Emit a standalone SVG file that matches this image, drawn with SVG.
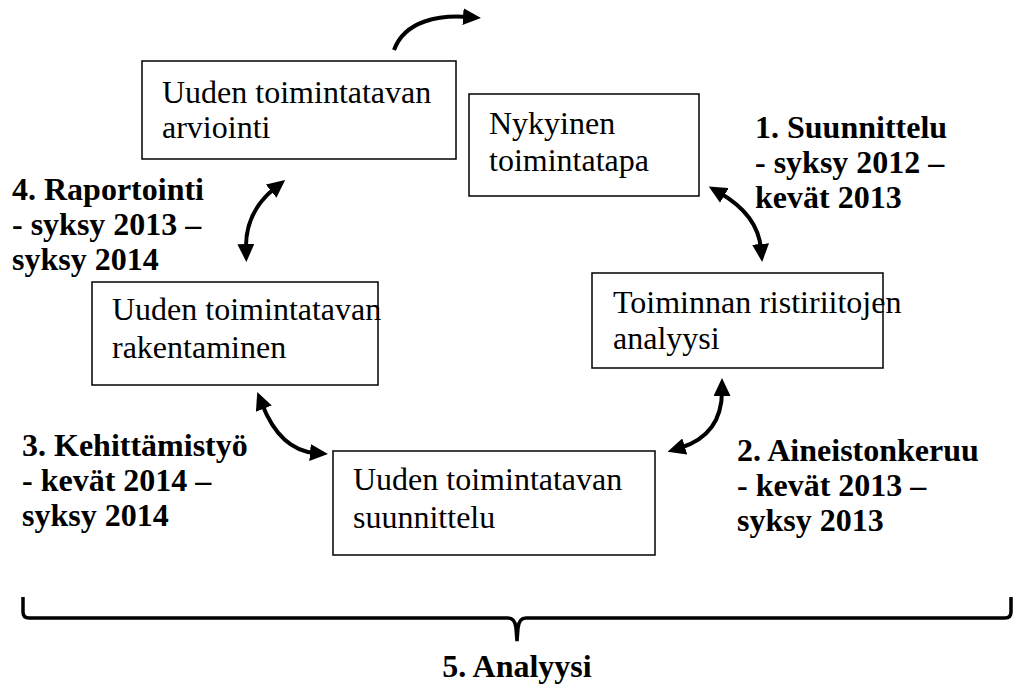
<svg xmlns="http://www.w3.org/2000/svg" width="1016" height="688" viewBox="0 0 1016 688">
  <style>
    .box { fill: #ffffff; stroke: #000000; stroke-width: 1.5; }
    .txt { font-family: "Liberation Serif", "Times New Roman", serif; font-size: 32px; fill: #000000; }
    .lbl { font-family: "Liberation Serif", "Times New Roman", serif; font-size: 32px; font-weight: bold; fill: #000000; }
    .arr { fill: none; stroke: #000000; stroke-width: 4; }
    .brace { fill: none; stroke: #000000; stroke-width: 3.5; }
  </style>
  <defs>
    <marker id="head" markerUnits="userSpaceOnUse" markerWidth="19" markerHeight="17" refX="5" refY="8.5" orient="auto-start-reverse" viewBox="0 0 19 17">
      <path d="M0,0 L18,8.5 L0,17 Z" fill="#000000"/>
    </marker>
  </defs>

  <rect width="1016" height="688" fill="#ffffff"/>

  <!-- process steps -->
  <g id="node-arviointi">
    <rect class="box" x="142" y="61" width="314" height="98"/>
    <text class="txt" x="162" y="103">Uuden toimintatavan</text>
    <text class="txt" x="162" y="138">arviointi</text>
  </g>
  <g id="node-nykyinen">
    <rect class="box" x="469" y="94" width="230" height="102"/>
    <text class="txt" x="489" y="134">Nykyinen</text>
    <text class="txt" x="489" y="171">toimintatapa</text>
  </g>
  <g id="node-ristiriidat">
    <rect class="box" x="592" y="273" width="291" height="95"/>
    <text class="txt" x="613" y="313">Toiminnan ristiriitojen</text>
    <text class="txt" x="613" y="349">analyysi</text>
  </g>
  <g id="node-rakentaminen">
    <rect class="box" x="92" y="282" width="286" height="103"/>
    <text class="txt" x="112" y="320">Uuden toimintatavan</text>
    <text class="txt" x="112" y="358">rakentaminen</text>
  </g>
  <g id="node-suunnittelu">
    <rect class="box" x="333" y="451" width="322" height="104"/>
    <text class="txt" x="353" y="490">Uuden toimintatavan</text>
    <text class="txt" x="353" y="528">suunnittelu</text>
  </g>

  <!-- phase labels -->
  <g id="label-1">
    <text class="lbl" x="755" y="138">1. Suunnittelu</text>
    <text class="lbl" x="755" y="173">- syksy 2012 –</text>
    <text class="lbl" x="755" y="208">kevät 2013</text>
  </g>
  <g id="label-2">
    <text class="lbl" x="737" y="461">2. Aineistonkeruu</text>
    <text class="lbl" x="737" y="496">- kevät 2013 –</text>
    <text class="lbl" x="737" y="531">syksy 2013</text>
  </g>
  <g id="label-3">
    <text class="lbl" x="22" y="456">3. Kehittämistyö</text>
    <text class="lbl" x="22" y="491">- kevät 2014 –</text>
    <text class="lbl" x="22" y="526">syksy 2014</text>
  </g>
  <g id="label-4">
    <text class="lbl" x="12" y="200">4. Raportointi</text>
    <text class="lbl" x="12" y="235">- syksy 2013 –</text>
    <text class="lbl" x="12" y="270">syksy 2014</text>
  </g>
  <g id="label-5">
    <text class="lbl" x="517" y="677" text-anchor="middle">5. Analyysi</text>
  </g>

  <!-- cycle arrows -->
  <g id="connectors">
    <path class="arr" d="M394,50 C405,20 440,15 468,17" marker-end="url(#head)"/>
    <path class="arr" d="M720,193 Q758,215 761,249" marker-start="url(#head)" marker-end="url(#head)"/>
    <path class="arr" d="M722,391 Q722,435 680,448" marker-start="url(#head)" marker-end="url(#head)"/>
    <path class="arr" d="M262,404 Q280,450 315,453" marker-start="url(#head)" marker-end="url(#head)"/>
    <path class="arr" d="M275,188 Q245,212 246,249" marker-start="url(#head)" marker-end="url(#head)"/>
  </g>

  <!-- brace spanning all phases -->
  <g id="brace">
    <path class="brace" d="M23,597 L23,612 Q23,618 29,618 L508,618 Q515,618 516,628 L517,641 L518,628 Q519,618 526,618 L1005,618 Q1011,618 1011,612 L1011,597"/>
  </g>
</svg>
